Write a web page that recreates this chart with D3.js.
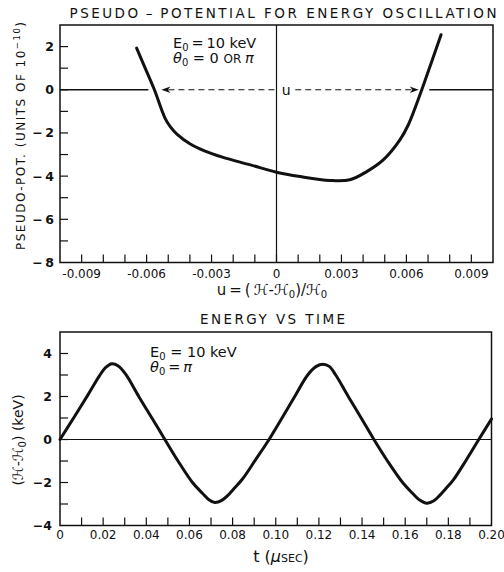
<!DOCTYPE html>
<html>
<head>
<meta charset="utf-8">
<script src="https://cdn.jsdelivr.net/npm/d3@7"></script>
<style>
  html, body { margin: 0; padding: 0; background: #fff; }
  svg { display: block; }
  text { font-family: "DejaVu Sans", sans-serif; fill: #111; }
</style>
</head>
<body>
<svg id="chart" width="504" height="572"></svg>
<script>
// ---- Pseudo-potential data (u = (H - H0)/H0, potential in units of 1e-10)
const potU = [-0.00646, -0.0060, -0.00564, -0.00515, -0.0049, -0.0046, -0.0040, -0.0033,
              -0.0025, -0.0012, 0, 0.00109, 0.00247, 0.00339, 0.00417, 0.00493, 0.0057,
              0.00609, 0.00671, 0.00717, 0.0076];
const potV = [1.93, 0.85, 0, -1.31, -1.72, -2.05, -2.5, -2.84,
              -3.12, -3.48, -3.82, -4.02, -4.2, -4.17, -3.79, -3.25, -2.32,
              -1.62, 0, 1.31, 2.55];
// turning points of the oscillation (where the dashed arrow ends)
const turnU = [-0.00564, 0.00671];
const potXTicks = [-0.009, -0.006, -0.003, 0, 0.003, 0.006, 0.009];
const potYTicks = [-8, -6, -4, -2, 0, 2];

// ---- Energy deviation vs time (t in microseconds, energy in keV)
const timeT = [0, 0.0066, 0.0131, 0.0182, 0.0212, 0.024, 0.027, 0.0305, 0.0365, 0.0426,
               0.0486, 0.0547, 0.0614, 0.0660, 0.0690, 0.0718, 0.0750, 0.0778, 0.0805, 0.0845,
               0.0906, 0.0969, 0.1029, 0.1088, 0.1148, 0.1188, 0.1219, 0.1248, 0.1278, 0.1336,
               0.1396, 0.1455, 0.1518, 0.1588, 0.1634, 0.1665, 0.1701, 0.1733, 0.1760, 0.1787,
               0.1825, 0.1883, 0.1941, 0.2];
const energyE = [0, 1.05, 2.1, 2.95, 3.35, 3.52, 3.42, 3.03, 2.0, 1.0,
                 0, -1.0, -2.0, -2.5, -2.8, -2.93, -2.83, -2.6, -2.3, -1.85,
                 -0.95, 0, 1.0, 2.0, 3.0, 3.4, 3.5, 3.4, 3.0, 2.0,
                 1.0, 0, -1.0, -2.0, -2.5, -2.8, -2.96, -2.85, -2.6, -2.3,
                 -1.85, -0.95, 0, 0.95];
const timeXTicks = [0, 0.02, 0.04, 0.06, 0.08, 0.10, 0.12, 0.14, 0.16, 0.18, 0.20];
const timeYTicks = [-4, -2, 0, 2, 4];

const svg = d3.select("#chart");
const TICK = 8;

// ================= top panel: pseudo-potential =================
const boxP = { x0: 60, x1: 493, y0: 25, y1: 262.5 };
const xP = d3.scaleLinear().domain([-0.010, 0.010]).range([boxP.x0, boxP.x1]);
const yP = d3.scaleLinear().domain([-8, 3]).range([boxP.y1, boxP.y0]);

const gTop = svg.append("g");

svg.append("text").attr("x", 283).attr("y", 18.3).attr("text-anchor", "middle")
  .attr("font-size", 13.5).attr("textLength", 427).attr("lengthAdjust", "spacing")
  .text("PSEUDO\u2009\u2013\u2009POTENTIAL FOR ENERGY OSCILLATION");

// ticks on bottom edge (every 0.001), pointing inward
const xMinorP = d3.range(-9, 10).map(d => d / 1000);
gTop.selectAll(".xtP").data(xMinorP).join("line")
  .attr("x1", d => xP(d)).attr("x2", d => xP(d))
  .attr("y1", boxP.y1).attr("y2", boxP.y1 - TICK)
  .attr("stroke", "#111").attr("stroke-width", 1.2);
gTop.selectAll(".xlP").data(potXTicks).join("text")
  .attr("x", d => xP(d)).attr("y", 278).attr("text-anchor", "middle")
  .attr("font-size", 12)
  .text(d => d === 0 ? "0" : (d < 0 ? "-" : "") + Math.abs(d).toFixed(3));

// ticks on left edge (every 1 unit)
const yMinorP = d3.range(-7, 3);
gTop.selectAll(".ytP").data(yMinorP).join("line")
  .attr("x1", boxP.x0).attr("x2", boxP.x0 + TICK)
  .attr("y1", d => yP(d)).attr("y2", d => yP(d))
  .attr("stroke", "#111").attr("stroke-width", 1.2);
gTop.selectAll(".ylP").data(potYTicks).join("text")
  .attr("x", 54).attr("y", d => yP(d) + 4.5).attr("text-anchor", "end")
  .attr("font-size", 12.5).attr("font-weight", "bold")
  .text(d => d < 0 ? "\u2212\u2009" + Math.abs(d) : String(d));

// axis at u = 0
gTop.append("line").attr("x1", xP(0)).attr("x2", xP(0))
  .attr("y1", boxP.y0).attr("y2", boxP.y1).attr("stroke", "#111").attr("stroke-width", 1.2);

// solid zero line outside the turning points
gTop.append("line").attr("x1", boxP.x0).attr("x2", xP(turnU[0]) - 6)
  .attr("y1", yP(0)).attr("y2", yP(0)).attr("stroke", "#111").attr("stroke-width", 1.6);
gTop.append("line").attr("x1", xP(turnU[1]) + 7.5).attr("x2", boxP.x1)
  .attr("y1", yP(0)).attr("y2", yP(0)).attr("stroke", "#111").attr("stroke-width", 1.6);

// dashed double arrow between the turning points, labelled u
const labelX = xP(0.00045);
const ax0 = xP(turnU[0]) + 7, ax1 = xP(turnU[1]) - 3, ay = yP(0);
gTop.append("line").attr("x1", ax0 + 7).attr("x2", labelX - 8)
  .attr("y1", ay).attr("y2", ay).attr("stroke", "#111").attr("stroke-width", 1.1)
  .attr("stroke-dasharray", "6,4");
gTop.append("line").attr("x1", labelX + 9).attr("x2", ax1 - 7)
  .attr("y1", ay).attr("y2", ay).attr("stroke", "#111").attr("stroke-width", 1.1)
  .attr("stroke-dasharray", "6,4");
gTop.append("path").attr("d", `M${ax0},${ay}L${ax0 + 9},${ay - 3.2}L${ax0 + 6.5},${ay}L${ax0 + 9},${ay + 3.2}Z`)
  .attr("fill", "#111");
gTop.append("path").attr("d", `M${ax1},${ay}L${ax1 - 9},${ay - 3.2}L${ax1 - 6.5},${ay}L${ax1 - 9},${ay + 3.2}Z`)
  .attr("fill", "#111");
gTop.append("text").attr("x", labelX).attr("y", yP(0) + 5).attr("text-anchor", "middle")
  .attr("font-size", 14).text("u");

// potential curve
const potLine = d3.line().x((d, i) => xP(potU[i])).y(d => yP(d)).curve(d3.curveCatmullRom.alpha(0.5));
gTop.append("path").datum(potV).attr("d", potLine)
  .attr("fill", "none").attr("stroke", "#111").attr("stroke-width", 3)
  .attr("stroke-linecap", "round");

// frame
gTop.append("rect").attr("x", boxP.x0).attr("y", boxP.y0)
  .attr("width", boxP.x1 - boxP.x0).attr("height", boxP.y1 - boxP.y0)
  .attr("fill", "none").attr("stroke", "#111").attr("stroke-width", 1.5);

// annotation
const annTop = gTop.append("text").attr("font-size", 14.5);
annTop.append("tspan").attr("x", 173).attr("y", 48).text("E");
annTop.append("tspan").attr("dy", 3).attr("font-size", 10).text("0");
annTop.append("tspan").attr("dy", -3).text("\u2009=\u200910 keV");
const annTop2 = gTop.append("text").attr("font-size", 14.5);
annTop2.append("tspan").attr("x", 173).attr("y", 63).attr("font-style", "italic").text("\u03b8");
annTop2.append("tspan").attr("dy", 3).attr("font-size", 10).text("0");
annTop2.append("tspan").attr("dy", -3).text(" = 0 ");
annTop2.append("tspan").attr("font-size", 12).text("OR ");
annTop2.append("tspan").attr("font-style", "italic").text("\u03c0");

// axis titles
const xtP = svg.append("text").attr("x", 272).attr("y", 295).attr("text-anchor", "middle")
  .attr("font-size", 15);
xtP.append("tspan").text("u\u2009=\u2009(\u2009\u210b-\u210b");
xtP.append("tspan").attr("dy", 3).attr("font-size", 10).text("0");
xtP.append("tspan").attr("dy", -3).text(")/\u210b");
xtP.append("tspan").attr("dy", 3).attr("font-size", 10).text("0");

const ytP = svg.append("text").attr("transform", "translate(25,136) rotate(-90)")
  .attr("text-anchor", "middle").attr("font-size", 12)
  .attr("textLength", 228).attr("lengthAdjust", "spacing");
ytP.append("tspan").text("PSEUDO-POT. (UNITS OF 10");
ytP.append("tspan").attr("dy", -5).attr("font-size", 8.5).text("\u221210");
ytP.append("tspan").attr("dy", 5).text(")");

// ================= bottom panel: energy vs time =================
const boxT = { x0: 60, x1: 491.5, y0: 332, y1: 525.5 };
const xT = d3.scaleLinear().domain([0, 0.2]).range([boxT.x0, boxT.x1]);
const yT = d3.scaleLinear().domain([-4, 5]).range([boxT.y1, boxT.y0]);
const gBot = svg.append("g");

svg.append("text").attr("x", 272.5).attr("y", 324).attr("text-anchor", "middle")
  .attr("font-size", 13.5).attr("textLength", 145).attr("lengthAdjust", "spacing")
  .text("ENERGY VS TIME");

const xMinorT = d3.range(1, 20).map(d => d / 100);
gBot.selectAll(".xtT").data(xMinorT).join("line")
  .attr("x1", d => xT(d)).attr("x2", d => xT(d))
  .attr("y1", boxT.y1).attr("y2", boxT.y1 - TICK)
  .attr("stroke", "#111").attr("stroke-width", 1.2);
gBot.selectAll(".xlT").data(timeXTicks).join("text")
  .attr("x", d => xT(d)).attr("y", 539).attr("text-anchor", "middle")
  .attr("font-size", 12)
  .text(d => d === 0 ? "0" : d.toFixed(2));

const yMinorT = d3.range(-3, 5);
gBot.selectAll(".ytT").data(yMinorT).join("line")
  .attr("x1", boxT.x0).attr("x2", boxT.x0 + TICK)
  .attr("y1", d => yT(d)).attr("y2", d => yT(d))
  .attr("stroke", "#111").attr("stroke-width", 1.2);
gBot.selectAll(".ylT").data(timeYTicks).join("text")
  .attr("x", 52).attr("y", d => yT(d) + 4.5).attr("text-anchor", "end")
  .attr("font-size", 12.5).attr("font-weight", "bold")
  .text(d => d < 0 ? "\u2212" + Math.abs(d) : String(d));

// zero line
gBot.append("line").attr("x1", boxT.x0).attr("x2", boxT.x1)
  .attr("y1", yT(0)).attr("y2", yT(0)).attr("stroke", "#111").attr("stroke-width", 1.2);

// energy curve
const eLine = d3.line().x((d, i) => xT(timeT[i])).y(d => yT(d)).curve(d3.curveCatmullRom.alpha(0.5));
gBot.append("path").datum(energyE).attr("d", eLine)
  .attr("fill", "none").attr("stroke", "#111").attr("stroke-width", 3)
  .attr("stroke-linecap", "round");

gBot.append("rect").attr("x", boxT.x0).attr("y", boxT.y0)
  .attr("width", boxT.x1 - boxT.x0).attr("height", boxT.y1 - boxT.y0)
  .attr("fill", "none").attr("stroke", "#111").attr("stroke-width", 1.5);

const annB = gBot.append("text").attr("font-size", 14.5);
annB.append("tspan").attr("x", 150).attr("y", 357).text("E");
annB.append("tspan").attr("dy", 3).attr("font-size", 10).text("0");
annB.append("tspan").attr("dy", -3).text(" = 10 keV");
const annB2 = gBot.append("text").attr("font-size", 14.5);
annB2.append("tspan").attr("x", 150).attr("y", 372).attr("font-style", "italic").text("\u03b8");
annB2.append("tspan").attr("dy", 3).attr("font-size", 10).text("0");
annB2.append("tspan").attr("dy", -3).text("\u2009=\u2009");
annB2.append("tspan").attr("font-style", "italic").text("\u03c0");

const xtT = svg.append("text").attr("x", 281).attr("y", 562).attr("text-anchor", "middle")
  .attr("font-size", 16);
xtT.append("tspan").text("t (");
xtT.append("tspan").attr("font-style", "italic").text("\u03bc");
xtT.append("tspan").attr("font-size", 11).text("SEC");
xtT.append("tspan").text(")");

const ytT = svg.append("text").attr("transform", "translate(23,440) rotate(-90)")
  .attr("text-anchor", "middle").attr("font-size", 14);
ytT.append("tspan").text("(\u210b-\u210b");
ytT.append("tspan").attr("dy", 3).attr("font-size", 10).text("0");
ytT.append("tspan").attr("dy", -3).text(") (keV)");
</script>
</body>
</html>
